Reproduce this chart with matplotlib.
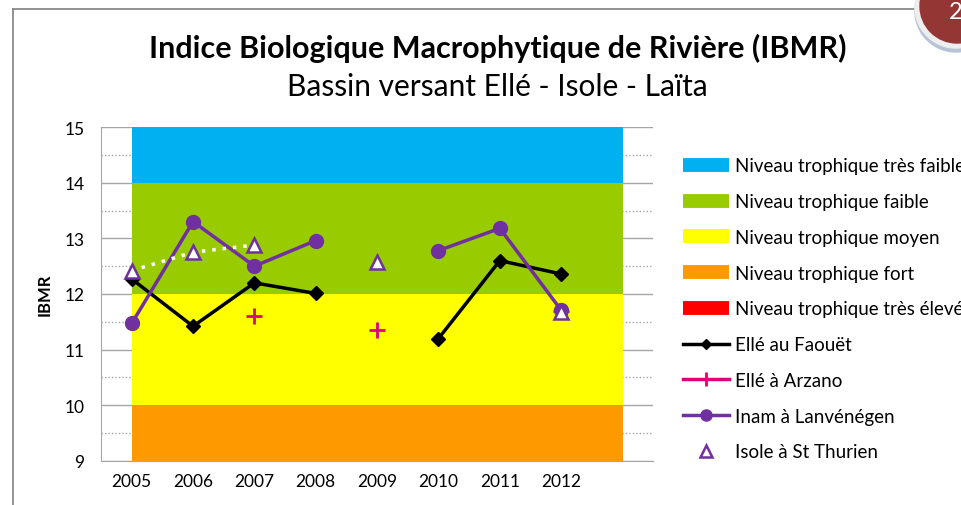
import numpy as np
import matplotlib.pyplot as plt
from matplotlib.patches import Circle
from matplotlib.lines import Line2D

plt.rcParams['font.family'] = ['Lato', 'DejaVu Sans']

# Catégories (2013 = colonne vide qui porte les bandes)
annees = [2005, 2006, 2007, 2008, 2009, 2010, 2011, 2012, 2013]
etiquettes = ['2005', '2006', '2007', '2008', '2009', '2010', '2011', '2012', '']

# Bandes de niveau trophique (bas, haut)
bandes = [
    ('Niveau trophique très faible', 14, 15, '#00B0F0'),
    ('Niveau trophique faible', 12, 14, '#99CC00'),
    ('Niveau trophique moyen', 10, 12, '#FFFF00'),
    ('Niveau trophique fort', 9, 10, '#FF9900'),
    ('Niveau trophique très élevé', 0, 9, '#FF0000'),
]

nan = np.nan
elle_faouet = [12.27, 11.42, 12.20, 12.01, nan, 11.20, 12.60, 12.36, nan]
elle_arzano = [nan, nan, 11.60, nan, 11.36, nan, nan, 11.70, nan]
inam = [11.47, 13.30, 12.50, 12.96, nan, 12.78, 13.18, 11.71, nan]
isole = [12.42, 12.75, 12.88, nan, 12.58, nan, nan, 11.68, nan]

fig = plt.figure(figsize=(9.62, 5.06), dpi=100)
ax = fig.add_axes([0.105, 0.087, 0.574, 0.660])

x = np.array(annees)

# grille (visible seulement hors bandes)
for v in range(9, 16):
    ax.axhline(v, color='#A6A6A6', lw=1, zorder=0)
for v in np.arange(9.5, 15, 1.0):
    ax.axhline(v, color='#A6A6A6', lw=1, ls=(0, (1, 1.5)), zorder=0)

for nom, bas, haut, couleur in bandes:
    ax.fill_between(x, bas, haut, color=couleur, lw=0, zorder=1)

ax.plot(x, elle_faouet, color='black', lw=2.5, marker='D', ms=7, zorder=3)
ax.plot(x, elle_arzano, color='#E0007A', lw=2, ls='none', marker='+', ms=12,
        mew=2, zorder=3)
ax.plot(x, inam, color='#7030A0', lw=2.5, marker='o', ms=10, zorder=4)
ax.plot(x, isole, color='white', lw=2.5, ls=(0, (1, 2)), zorder=5)
ax.plot(x, isole, ls='none', marker='^', ms=10, mfc='white', mec='#7030A0',
        mew=1.8, zorder=6)

ax.set_xlim(2004.5, 2013.5)
ax.set_ylim(9, 15)
ax.set_xticks(annees)
ax.set_xticklabels(etiquettes, fontsize=12.5)
ax.set_yticks(range(9, 16))
ax.tick_params(axis='y', labelsize=12.5, length=0, pad=12)
ax.tick_params(axis='x', length=0, pad=9)
ax.set_ylabel('IBMR', fontsize=12, fontweight='bold', labelpad=8)
for s in ['top', 'right']:
    ax.spines[s].set_visible(False)
for s in ['left', 'bottom']:
    ax.spines[s].set_color('#A6A6A6')

fig.text(0.517, 0.905, 'Indice Biologique Macrophytique de Rivière (IBMR)',
         ha='center', va='center', fontsize=22, fontweight='bold')
fig.text(0.517, 0.828, 'Bassin versant Ellé - Isole - Laïta',
         ha='center', va='center', fontsize=21.5)

# Légende
poignees = [Line2D([], [], color=c, lw=10, solid_capstyle='butt')
            for _, _, _, c in bandes]
poignees += [
    Line2D([], [], color='black', lw=2.5, marker='D', ms=5),
    Line2D([], [], color='#E0007A', lw=2.5, marker='|', ms=10, mew=2),
    Line2D([], [], color='#7030A0', lw=2.5, marker='o', ms=8),
    Line2D([], [], ls='none', marker='^', ms=9, mfc='white', mec='#7030A0', mew=1.8),
]
noms = [b[0] for b in bandes] + ['Ellé au Faouët', 'Ellé à Arzano',
                                  'Inam à Lanvénégen', 'Isole à St Thurien']
fig.legend(poignees, noms, loc='upper left', bbox_to_anchor=(0.710, 0.687),
           frameon=False, fontsize=13.5, handlelength=2.45, handletextpad=0.3,
           labelspacing=1.0, borderaxespad=0, borderpad=0)

# Cadre de la diapositive
fig.add_artist(Line2D([0.0135, 0.0135], [0.0, 0.98], color='#808080', lw=1.2,
                      transform=fig.transFigure))
fig.add_artist(Line2D([0.0135, 0.955], [0.98, 0.98], color='#808080', lw=1.2,
                      transform=fig.transFigure))
fig.add_artist(Circle((9.56, 4.94), 0.41, transform=fig.dpi_scale_trans,
                      color='#B8C4D6', zorder=9))
fig.add_artist(Circle((9.56, 4.98), 0.41, transform=fig.dpi_scale_trans,
                      color='#EEEEEE', zorder=10))
fig.add_artist(Circle((9.57, 4.99), 0.37, transform=fig.dpi_scale_trans,
                      color='#943634', zorder=11))
fig.text(0.993, 0.975, '2', color='white', fontsize=17, ha='center',
         va='center', zorder=12)

fig.savefig('out.png', dpi=100)
